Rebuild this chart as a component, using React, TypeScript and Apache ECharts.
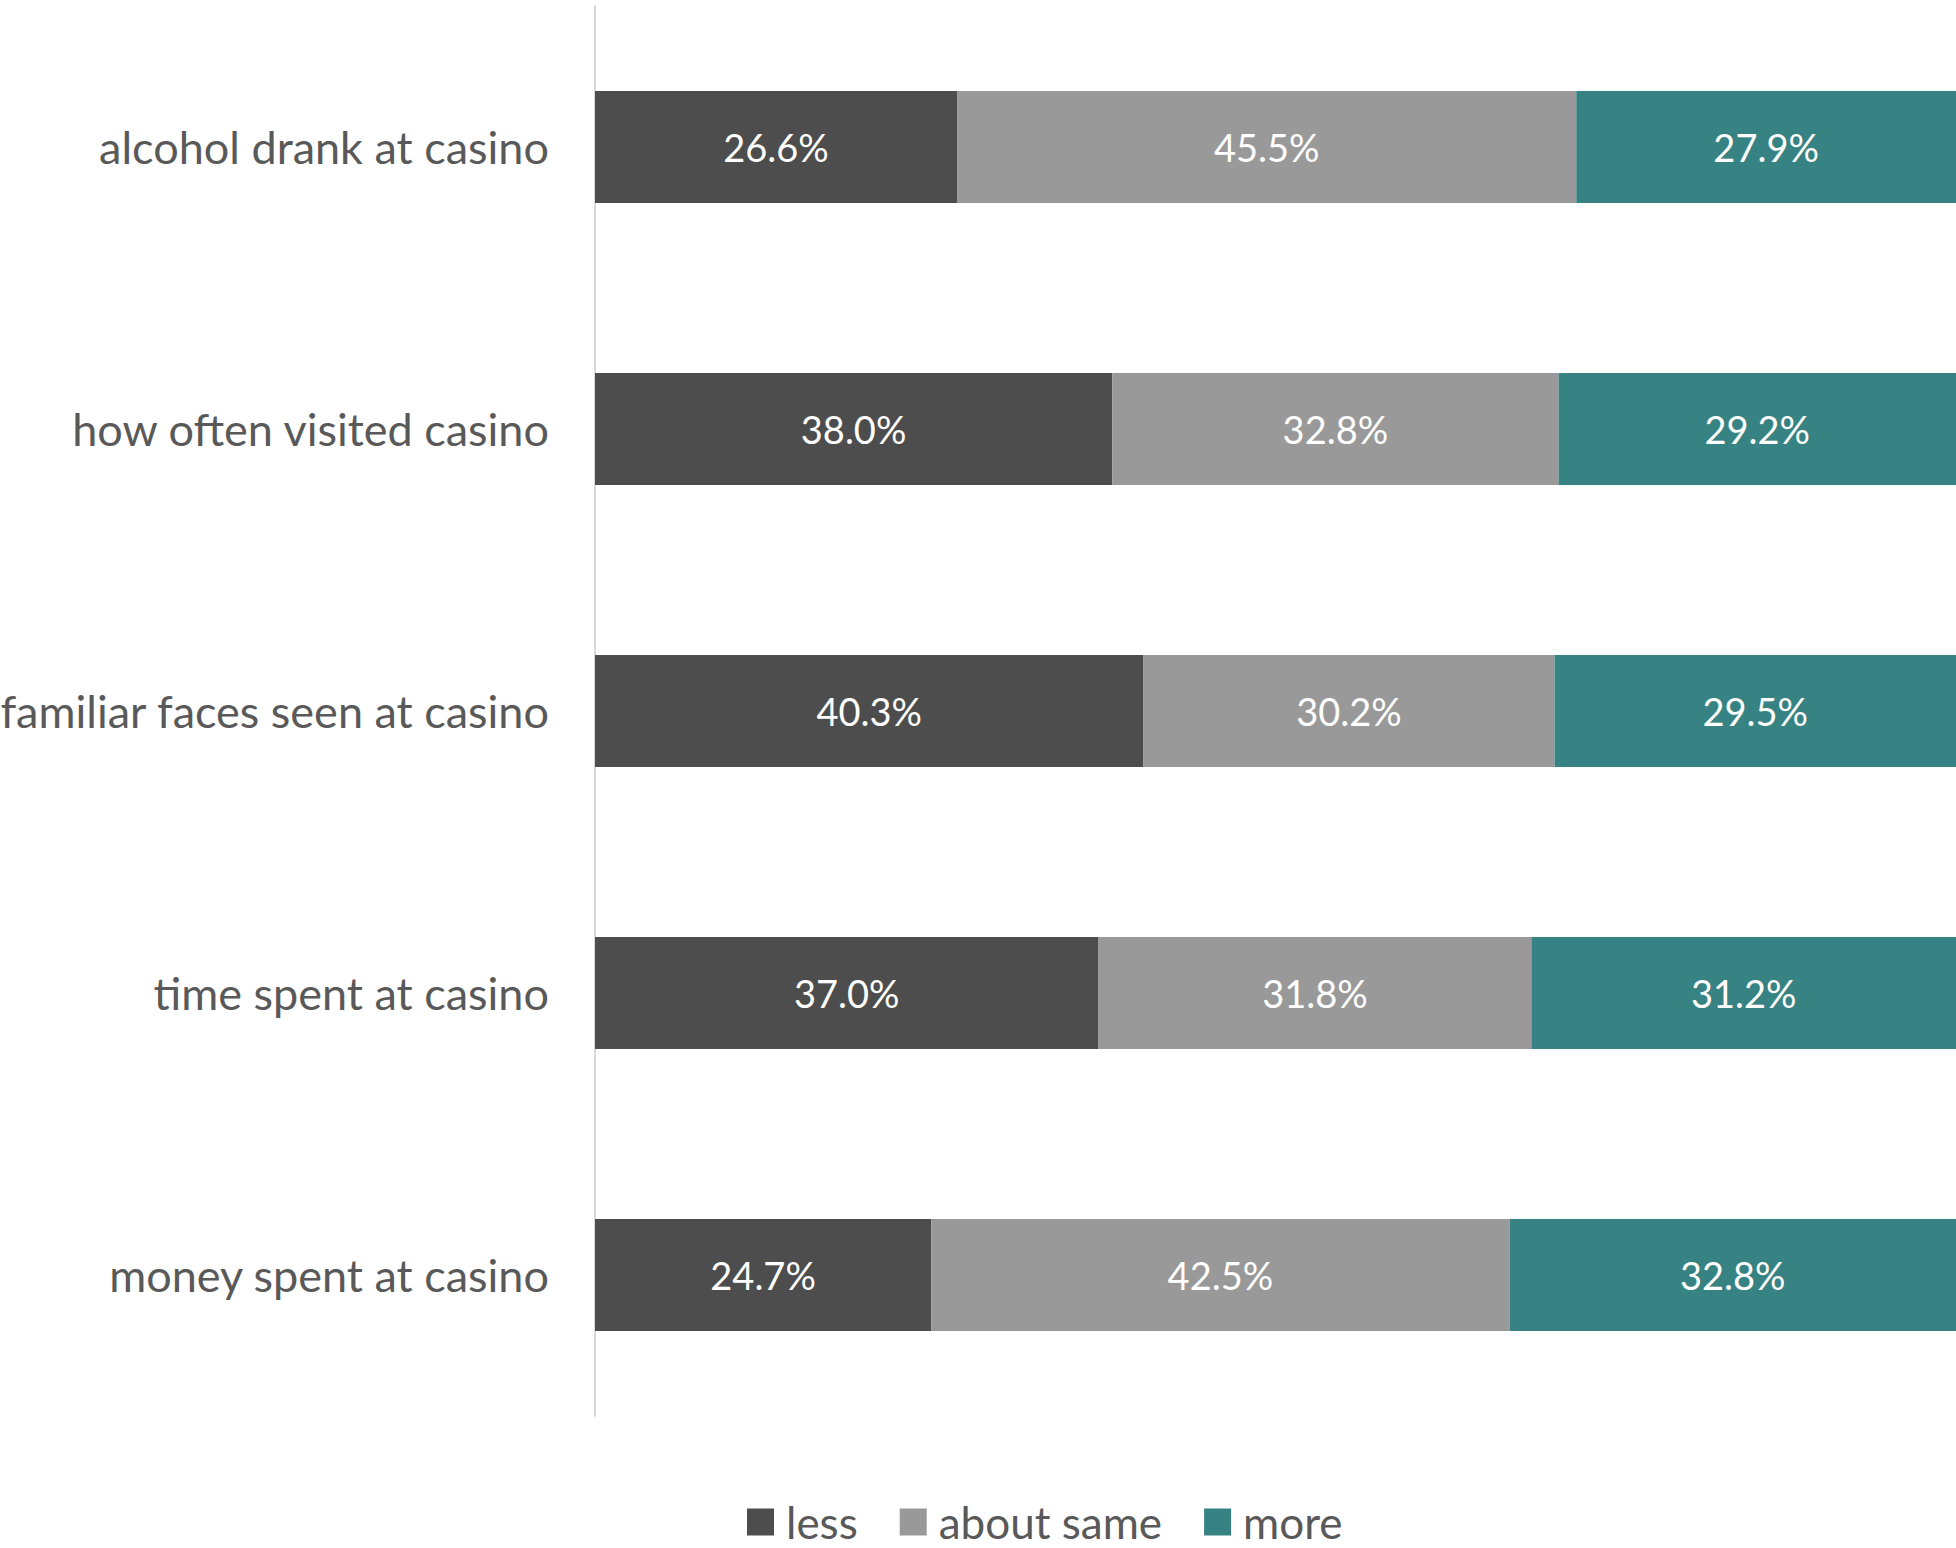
import React, { useEffect, useRef } from "react";
import * as echarts from "echarts";

const categories = [
  "alcohol drank at casino",
  "how often visited casino",
  "familiar faces seen at casino",
  "time spent at casino",
  "money spent at casino",
];
const lessValues = [26.6, 38.0, 40.3, 37.0, 24.7];
const sameValues = [45.5, 32.8, 30.2, 31.8, 42.5];
const moreValues = [27.9, 29.2, 29.5, 31.2, 32.8];
const seriesNames = ["less", "about same", "more"];
const colors = ["#4d4d4d", "#999999", "#378282"];

const FONT = "Lato, 'Open Sans', sans-serif";

export default function App() {
  const ref = useRef<HTMLDivElement>(null);
  useEffect(() => {
    if (!ref.current) return;
    const chart = echarts.init(ref.current, null, { renderer: "svg" });
    const mk = (name: string, data: number[], color: string) => ({
      name,
      type: "bar",
      stack: "total",
      data,
      barWidth: 112,
      itemStyle: { color },
      label: {
        show: true,
        position: "inside",
        color: "#ffffff",
        fontFamily: FONT,
        fontSize: 38,
        formatter: (p: any) => p.value.toFixed(1) + "%",
      },
    });
    chart.setOption({
      animation: false,
      textStyle: { fontFamily: FONT },
      legend: {
        top: 1500,
        left: 747,
        padding: 0,
        itemWidth: 27,
        itemHeight: 27,
        itemGap: 42,
        icon: "rect",
        textStyle: {
          color: "#595959",
          fontSize: 44,
          fontFamily: FONT,
          padding: [0, 0, 2, 7],
        },
        data: seriesNames,
      },
      grid: {
        left: 595,
        right: 0,
        top: 6,
        bottom: 132,
        containLabel: false,
        outerBoundsMode: "none",
      },
      xAxis: {
        type: "value",
        min: 0,
        max: 100,
        show: false,
      },
      yAxis: {
        type: "category",
        data: categories,
        inverse: true,
        axisLine: { show: true, lineStyle: { color: "#d9d9d9", width: 2 } },
        axisTick: { show: false },
        axisLabel: {
          color: "#595959",
          fontSize: 45,
          fontFamily: FONT,
          margin: 46,
        },
      },
      series: [
        mk(seriesNames[0], lessValues, colors[0]),
        mk(seriesNames[1], sameValues, colors[1]),
        mk(seriesNames[2], moreValues, colors[2]),
      ],
    });
    return () => chart.dispose();
  }, []);
  return <div ref={ref} style={{ width: 1956, height: 1548, position: "absolute", left: 0, top: 0 }} />;
}
